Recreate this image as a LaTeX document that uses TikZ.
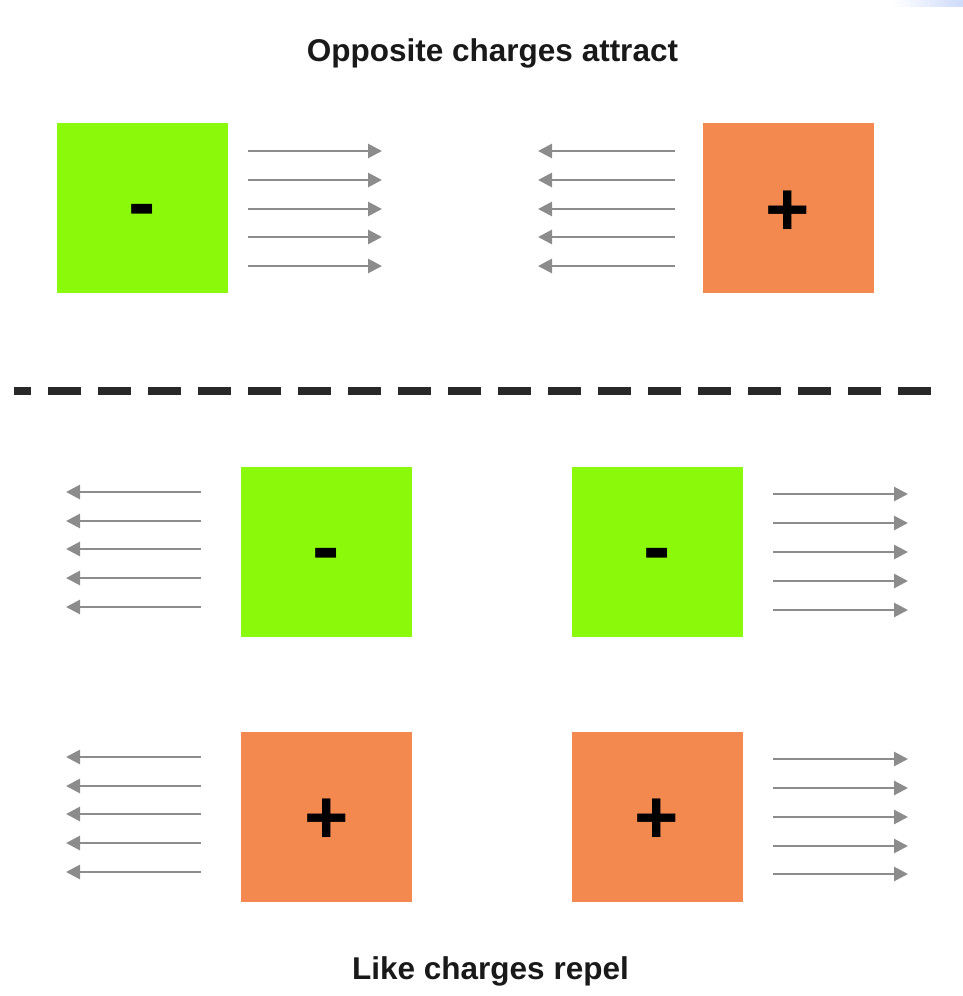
\documentclass[tikz,border=0pt]{standalone}
\usepackage{fontspec}
\setmainfont{Liberation Sans}
\usetikzlibrary{arrows.meta}
\definecolor{chgreen}{RGB}{138,250,10}
\definecolor{chorange}{RGB}{244,137,80}
\definecolor{arrowgray}{RGB}{140,140,140}
\definecolor{dashdark}{RGB}{40,40,40}
\definecolor{cornerblue}{RGB}{205,218,250}
\definecolor{txtdark}{RGB}{25,25,25}
\tikzset{
  negbox/.style={fill=chgreen, inner sep=0pt, minimum width=171pt, minimum height=170pt},
  posbox/.style={fill=chorange, inner sep=0pt, minimum width=171pt, minimum height=170pt},
  minustxt/.style={anchor=base, inner sep=0pt, text=black, font=\fontsize{82}{82}\selectfont\bfseries},
  plustxt/.style={anchor=base, inner sep=0pt, text=black, font=\fontsize{76}{76}\selectfont\bfseries},
  titletxt/.style={anchor=base, inner sep=0pt, text=txtdark, font=\fontsize{31.5}{31.5}\selectfont\bfseries},
  fieldarrow/.style={draw=arrowgray, line width=2.8pt, -{Triangle[length=14pt,width=14pt]}},
  divider/.style={draw=dashdark, line width=8.5pt, dash pattern=on 33pt off 17pt, dash phase=16pt}
}
\begin{document}
\begin{tikzpicture}[x=1pt,y=-1pt]
\useasboundingbox (0,0) rectangle (963,996);
% corner gradient
\shade[left color=white, right color=cornerblue] (893,0) rectangle (963,6);
% titles
\node[titletxt] (toptitle) at (492.5,61) {Opposite charges attract};
\node[titletxt] (bottitle) at (490.5,979) {Like charges repel};
% top row
\node[negbox] (tl) at (142.5,208) {};
\node[posbox] (tr) at (788,208) {};
\node[minustxt] (tlsign) at (142.5,230.5) {-};
\node[plustxt] (trsign) at (788,235) {+};
\foreach \y [count=\i] in {151,180,209,237,266} {
  \coordinate (tlA\i) at (248,\y);
  \coordinate (tlB\i) at (382,\y);
  \draw[fieldarrow] (tlA\i) -- (tlB\i);
  \coordinate (trA\i) at (675,\y);
  \coordinate (trB\i) at (538,\y);
  \draw[fieldarrow] (trA\i) -- (trB\i);
}
% divider
\coordinate (divL) at (14,391);
\coordinate (divR) at (931,391);
\draw[divider] (divL) -- (divR);
% middle row
\node[negbox] (ml) at (326.5,552) {};
\node[negbox] (mr) at (657,552) {};
\node[minustxt] (mlsign) at (326.5,574.5) {-};
\node[minustxt] (mrsign) at (657,574.5) {-};
\foreach \y [count=\i] in {492,521,549,578,607} {
  \coordinate (mlA\i) at (201,\y);
  \coordinate (mlB\i) at (66,\y);
  \draw[fieldarrow] (mlA\i) -- (mlB\i);
}
\foreach \y [count=\i] in {494,523,552,581,610} {
  \coordinate (mrA\i) at (773,\y);
  \coordinate (mrB\i) at (908,\y);
  \draw[fieldarrow] (mrA\i) -- (mrB\i);
}
% bottom row
\node[posbox] (bl) at (326.5,817) {};
\node[posbox] (br) at (657,817) {};
\node[plustxt] (blsign) at (326.5,843) {+};
\node[plustxt] (brsign) at (657,843) {+};
\foreach \y [count=\i] in {757,786,814,843,872} {
  \coordinate (blA\i) at (201,\y);
  \coordinate (blB\i) at (66,\y);
  \draw[fieldarrow] (blA\i) -- (blB\i);
}
\foreach \y [count=\i] in {759,788,817,846,874} {
  \coordinate (brA\i) at (773,\y);
  \coordinate (brB\i) at (908,\y);
  \draw[fieldarrow] (brA\i) -- (brB\i);
}
\end{tikzpicture}
\end{document}
